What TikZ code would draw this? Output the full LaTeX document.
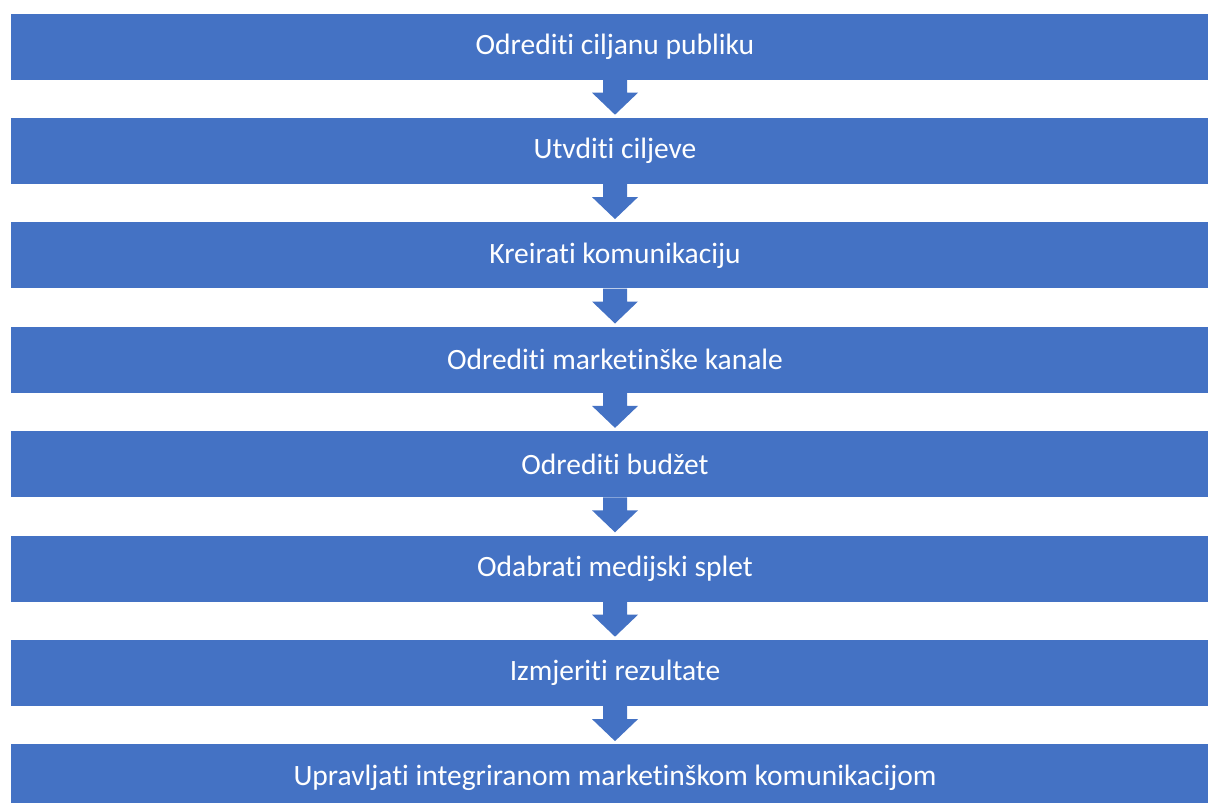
\documentclass[tikz,border=0pt]{standalone}
\usepackage{fontspec}
\setmainfont[Ligatures={NoCommon}]{Carlito}
\newXeTeXintercharclass\myTclass
\newXeTeXintercharclass\myIclass
\XeTeXcharclass`t=\myTclass
\XeTeXcharclass`i=\myIclass
\XeTeXinterchartoks\myTclass\myIclass={\kern0pt }
\XeTeXinterchartokenstate=1
\definecolor{stepblue}{HTML}{4472C4}
\tikzset{
  stepbox/.style={fill=stepblue, draw=none, minimum width=1208pt, minimum height=66pt,
    inner sep=0pt, text=white, font=\fontsize{29.5}{34}\selectfont, anchor=center},
  flowarrow/.style={fill=stepblue, draw=none}
}
\newcommand{\downarrowshape}[1]{%
  \fill[flowarrow] ([xshift=-12pt]#1.south) -- ++(0,13) -- ++(-11,0) -- ++(23,22) -- ++(23,-22) -- ++(-11,0) -- ++(0,-13) -- cycle;}
\begin{document}
\begin{tikzpicture}[x=1pt,y=-1pt]
\useasboundingbox (0,0) rectangle (1208,803);
\clip (0,0) rectangle (1208,803);
\node[stepbox] (b0) at (615,46.5) {Odrediti ciljanu publiku};
\node[stepbox] (b1) at (615,150.9) {Utvditi ciljeve};
\node[stepbox] (b2) at (615,255.3) {Kreirati komunikaciju};
\node[stepbox] (b3) at (615,359.7) {Odrediti marketinške kanale};
\node[stepbox] (b4) at (615,464.1) {Odrediti budžet};
\node[stepbox] (b5) at (615,568.5) {Odabrati medijski splet};
\node[stepbox] (b6) at (615,672.9) {Izmjeriti rezultate};
\node[stepbox] (b7) at (615,777.3) {Upravljati integriranom marketinškom komunikacijom};
\downarrowshape{b0}
\downarrowshape{b1}
\downarrowshape{b2}
\downarrowshape{b3}
\downarrowshape{b4}
\downarrowshape{b5}
\downarrowshape{b6}
\end{tikzpicture}
\end{document}
